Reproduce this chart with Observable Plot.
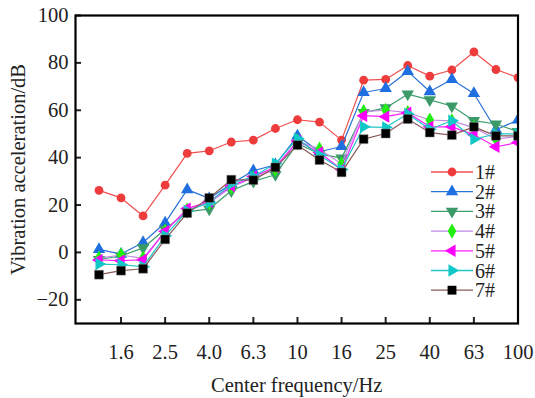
<!DOCTYPE html>
<html>
<head>
<meta charset="utf-8">
<script src="https://cdn.jsdelivr.net/npm/d3@7"></script>
<script src="https://cdn.jsdelivr.net/npm/@observablehq/plot@0.6"></script>
<style>
  html, body { margin: 0; padding: 0; background: #fff; }
  #wrap { position: relative; width: 535px; height: 398px; }
  #legend { position: absolute; left: 0; top: 0; }
</style>
</head>
<body>
<div id="wrap"></div>
<script>
// Band centre frequencies (Hz), one-third octave
const freqs = ["1.25","1.6","2","2.5","3.15","4.0","5","6.3","8","10","12.5","16","20","25","31.5","40","50","63","80","100"];
const tickLabels = ["1.6","2.5","4.0","6.3","10","16","25","40","63","100"];
const seriesNames = ["1#","2#","3#","4#","5#","6#","7#"];

const s1 = [26.2, 23.0, 15.4, 28.4, 41.8, 42.9, 46.6, 47.4, 52.3, 56.0, 55.0, 47.4, 72.7, 73.0, 78.9, 74.4, 77.0, 84.6, 77.2, 73.8];
const s2 = [1.3, -0.7, 4.2, 12.5, 26.5, 22.8, 29.0, 34.5, 37.0, 49.2, 42.5, 44.7, 67.5, 69.2, 76.4, 67.9, 73.0, 67.1, 51.8, 55.9];
const s3 = [-3.0, -1.5, 1.9, 9.8, 17.2, 18.3, 26.0, 30.0, 32.8, 46.0, 41.6, 39.8, 59.0, 61.0, 66.8, 64.4, 61.8, 55.6, 54.2, 51.0];
const s4 = [-2.4, -1.1, -2.5, 9.0, 18.0, 21.0, 27.5, 31.5, 35.0, 47.0, 43.6, 37.3, 59.4, 60.0, 59.0, 55.9, 55.5, 52.7, 47.8, 49.0];
const s5 = [-3.2, -3.5, -3.1, 8.9, 18.5, 21.5, 28.0, 32.0, 36.0, 47.0, 42.2, 35.0, 57.7, 57.3, 59.0, 53.0, 53.0, 49.7, 44.6, 46.4];
const s6 = [-4.9, -5.2, -6.0, 7.0, 17.5, 21.0, 29.0, 32.0, 37.5, 48.0, 41.0, 35.0, 53.0, 52.8, 58.4, 52.0, 55.6, 47.8, 50.0, 50.0];
const s7 = [-9.4, -7.7, -6.9, 5.5, 16.6, 23.0, 30.7, 30.5, 35.9, 45.3, 39.0, 33.8, 47.8, 50.2, 56.3, 50.6, 49.5, 53.0, 49.2, 49.2];

const values = [s1, s2, s3, s4, s5, s6, s7];
const lineColors = ["#f05050", "#2a72d8", "#3d9e6e", "#c08ae6", "#ff20ff", "#22c8c8", "#8b5a5a"];
const markColors = ["#ee3b3b", "#1f6fe0", "#3a9a68", "#22ee11", "#ff00ff", "#11c8c8", "#000000"];
const symbols = ["circle", "triangle", "triangle", "diamond", "triangle", "triangle", "square"];
const rotations = [0, 0, 180, 0, -90, 90, 0];
const radii = [4.4, 4.6, 4.6, 4.6, 4.6, 4.6, 5.0];

const FONT = "'Liberation Serif', 'Times New Roman', serif";
const tickIdx = tickLabels.map(t => freqs.indexOf(t));

const marks = [];
values.forEach((vals, k) => {
  const rows = vals.map((v, i) => ({x: i, y: v}));
  marks.push(Plot.line(rows, {x: "x", y: "y", stroke: lineColors[k], strokeWidth: 1.2, clip: true}));
  marks.push(Plot.dot(rows, {x: "x", y: "y", symbol: symbols[k], rotate: rotations[k], r: radii[k],
    fill: markColors[k], stroke: k === 6 ? "#777" : "none", strokeWidth: 0.5, clip: true}));
});

const chart = Plot.plot({
  width: 535,
  height: 398,
  marginLeft: 75,
  marginRight: 17.5,
  marginTop: 15,
  marginBottom: 75,
  style: {fontFamily: FONT, fontSize: "20px", color: "#222", background: "#fff"},
  x: {type: "linear", domain: [-1.065, 19]},
  y: {domain: [-30, 100]},
  marks: [
    Plot.axisY({ticks: [-20, 0, 20, 40, 60, 80, 100], tickSize: -6, tickPadding: 13, strokeWidth: 2,
      label: "Vibration acceleration/dB", labelAnchor: "center", labelArrow: false, labelOffset: 65, fontSize: 20.5}),
    Plot.axisX({ticks: tickIdx, tickFormat: i => freqs[i], tickSize: -6, tickPadding: 27, strokeWidth: 2,
      label: "Center frequency/Hz", labelAnchor: "center", labelArrow: false, labelOffset: 68, fontSize: 20.5}),
    ...marks,
    Plot.frame({stroke: "#000", strokeWidth: 2.2})
  ]
});
document.getElementById("wrap").appendChild(chart);

// Legend drawn inside the plot area
const lg = d3.select("#wrap").append("svg").attr("id", "legend")
  .attr("width", 535).attr("height", 398);
const lx0 = 431, lx1 = 473, ly0 = 172, lstep = 19.7;
seriesNames.forEach((name, k) => {
  const y = ly0 + k * lstep;
  const g = lg.append("g");
  g.append("line").attr("x1", lx0).attr("x2", lx1).attr("y1", y).attr("y2", y)
    .attr("stroke", lineColors[k]).attr("stroke-width", 1.3);
  const typ = {circle: d3.symbolCircle, triangle: d3.symbolTriangle, diamond: d3.symbolDiamond, square: d3.symbolSquare}[symbols[k]];
  g.append("path").attr("d", d3.symbol(typ, Math.PI * radii[k] * radii[k])())
    .attr("transform", `translate(${(lx0 + lx1) / 2},${y}) rotate(${rotations[k]})`)
    .attr("fill", markColors[k]);
  g.append("text").attr("x", lx1 + 2).attr("y", y).attr("dy", "0.35em")
    .attr("font-family", FONT).attr("font-size", 20).attr("fill", "#222").text(name);
});
</script>
</body>
</html>
